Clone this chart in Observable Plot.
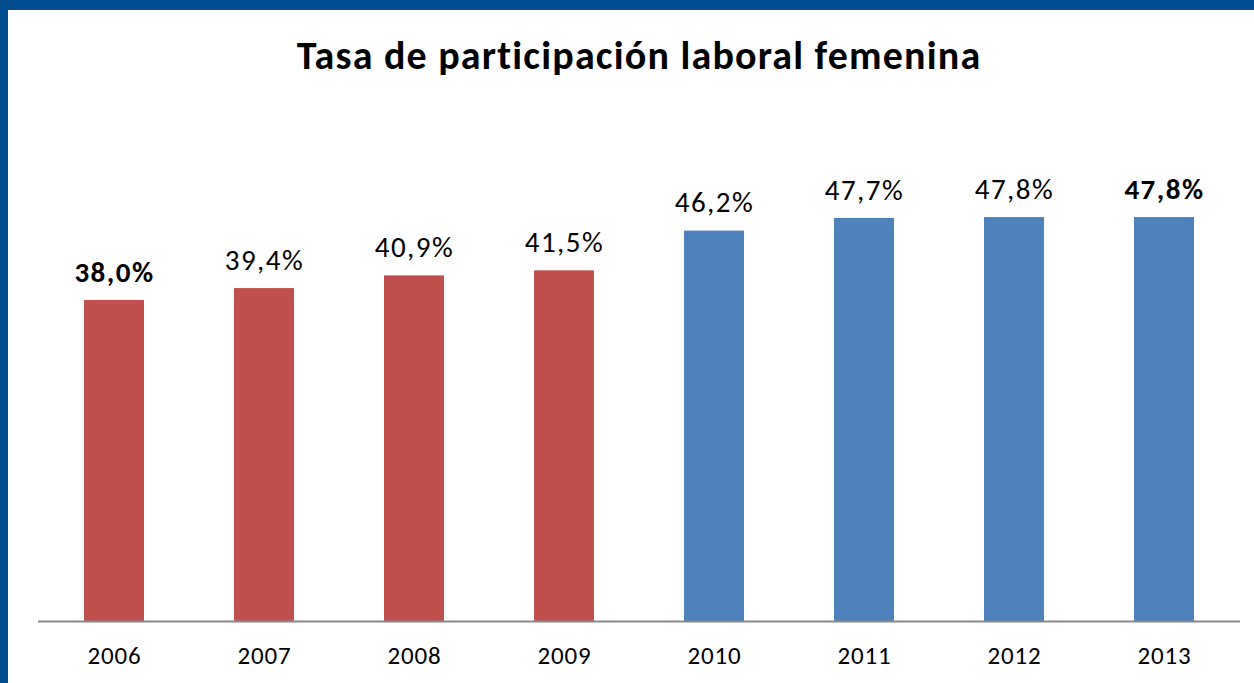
<!DOCTYPE html>
<html>
<head>
<meta charset="utf-8">
<script src="https://cdn.jsdelivr.net/npm/d3@7"></script>
<script src="https://cdn.jsdelivr.net/npm/@observablehq/plot@0.6"></script>
<style>
  html, body { margin: 0; padding: 0; background: #fff; }
  #frame {
    width: 1254px; height: 683px; box-sizing: border-box;
    border-top: 10px solid #004E8F; border-left: 8px solid #004E8F;
    position: relative; overflow: hidden;
    font-family: Carlito, Calibri, Lato, sans-serif;
  }
  #title {
    position: absolute; left: 0; width: 1262px; top: 26px;
    text-align: center; font-size: 40px; font-weight: bold; color: #000;
    line-height: 40px; letter-spacing: 1.2px; white-space: nowrap;
  }
  #chart { position: absolute; left: 0; top: 90px; }
  #chart g[aria-label="text"] text { letter-spacing: 1.5px; }
  #chart g[aria-label="x-axis tick label"] text { letter-spacing: 0.8px; }
</style>
</head>
<body>
<div id="frame">
  <div id="title">Tasa de participación laboral femenina</div>
  <div id="chart"></div>
</div>
<script>
const years = ["2006", "2007", "2008", "2009", "2010", "2011", "2012", "2013"];
const values = [38.0, 39.4, 40.9, 41.5, 46.2, 47.7, 47.8, 47.8];
const periods = ["A", "A", "A", "A", "B", "B", "B", "B"];
const boldYears = ["2006", "2013"];
const periodColors = ["#C0504D", "#4F81BD"];

const data = years.map((y, i) => ({year: y, value: values[i], period: periods[i]}));
const fmt = v => v.toFixed(1).replace(".", ",") + "%";

const chart = Plot.plot({
  width: 1246,
  height: 583,
  marginTop: 14,
  marginBottom: 62,
  marginLeft: 30,
  marginRight: 14,
  style: {fontFamily: "Carlito, Calibri, Lato, sans-serif", fontSize: "25px", color: "#000", background: "transparent"},
  x: {domain: years, paddingInner: 0.6, paddingOuter: 0.3, label: null},
  y: {domain: [0, 60], axis: null},
  color: {domain: ["A", "B"], range: periodColors},
  marks: [
    Plot.barY(data, {x: "year", y: "value", fill: "period"}),
    Plot.ruleY([0], {stroke: "#898989", strokeWidth: 2}),
    Plot.axisX({tickSize: 0, tickPadding: 25, fontSize: 25, fill: "#000", label: null}),
    Plot.text(data.filter(d => !boldYears.includes(d.year)), {
      x: "year", y: "value", text: d => fmt(d.value), lineAnchor: "middle", dy: -28,
      fontSize: 29, fill: "#000"
    }),
    Plot.text(data.filter(d => boldYears.includes(d.year)), {
      x: "year", y: "value", text: d => fmt(d.value), lineAnchor: "middle", dy: -28,
      fontSize: 29, fontWeight: "bold", fill: "#000"
    })
  ]
});
document.getElementById("chart").appendChild(chart);
</script>
</body>
</html>
